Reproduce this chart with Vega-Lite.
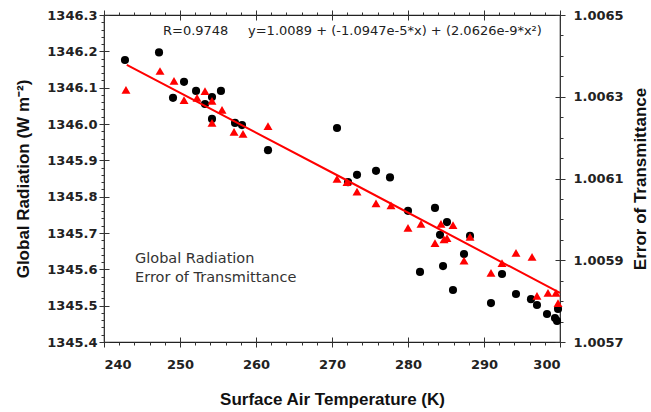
{
  "$schema": "https://vega.github.io/schema/vega-lite/v6.json",
  "width": 456,
  "height": 327,
  "autosize": {"type": "none"},
  "padding": {"left": 104, "top": 15, "right": 91, "bottom": 70},
  "background": "white",
  "config": {
    "view": {"stroke": "#222", "strokeWidth": 1.2},
    "axis": {
      "grid": false,
      "domain": false,
      "tickColor": "#333",
      "tickWidth": 1,
      "labelFont": "DejaVu Sans",
      "labelFontWeight": "bold",
      "labelFontSize": 13,
      "labelColor": "#222",
      "titleFont": "Liberation Sans",
      "titleFontWeight": "bold",
      "titleFontSize": 17,
      "titleColor": "#111"
    }
  },
  "datasets": {
    "rad": [
      {"T": 242.76, "R": 1346.176}, {"T": 247.24, "R": 1346.197}, {"T": 249.08, "R": 1346.072},
      {"T": 250.53, "R": 1346.116}, {"T": 252.11, "R": 1346.091}, {"T": 253.29, "R": 1346.055},
      {"T": 254.21, "R": 1346.074}, {"T": 254.21, "R": 1346.014}, {"T": 255.39, "R": 1346.091},
      {"T": 257.24, "R": 1346.003}, {"T": 258.16, "R": 1345.997}, {"T": 261.58, "R": 1345.928},
      {"T": 270.66, "R": 1345.989}, {"T": 272.11, "R": 1345.840}, {"T": 273.29, "R": 1345.860},
      {"T": 275.79, "R": 1345.871}, {"T": 277.63, "R": 1345.853}, {"T": 280.0, "R": 1345.761},
      {"T": 281.58, "R": 1345.593}, {"T": 283.55, "R": 1345.769}, {"T": 284.21, "R": 1345.695},
      {"T": 284.61, "R": 1345.609}, {"T": 285.13, "R": 1345.730}, {"T": 285.92, "R": 1345.543},
      {"T": 287.37, "R": 1345.642}, {"T": 288.16, "R": 1345.692}, {"T": 290.92, "R": 1345.507},
      {"T": 292.37, "R": 1345.587}, {"T": 294.21, "R": 1345.532}, {"T": 296.18, "R": 1345.518},
      {"T": 296.97, "R": 1345.502}, {"T": 298.29, "R": 1345.477}, {"T": 299.34, "R": 1345.466},
      {"T": 299.61, "R": 1345.458}, {"T": 299.74, "R": 1345.491}
    ],
    "trans": [
      {"T": 242.89, "E": 1.006317}, {"T": 247.37, "E": 1.006363}, {"T": 249.21, "E": 1.006339},
      {"T": 250.53, "E": 1.006292}, {"T": 252.24, "E": 1.006297}, {"T": 253.29, "E": 1.006314},
      {"T": 254.21, "E": 1.006290}, {"T": 255.53, "E": 1.006268}, {"T": 254.21, "E": 1.006236},
      {"T": 257.11, "E": 1.006214}, {"T": 258.29, "E": 1.006209}, {"T": 261.58, "E": 1.006228},
      {"T": 270.66, "E": 1.006099}, {"T": 271.97, "E": 1.006091}, {"T": 273.29, "E": 1.006068},
      {"T": 275.79, "E": 1.006039}, {"T": 277.76, "E": 1.006034}, {"T": 280.0, "E": 1.005979},
      {"T": 281.71, "E": 1.005989}, {"T": 283.55, "E": 1.005942}, {"T": 284.34, "E": 1.005989},
      {"T": 285.92, "E": 1.005986}, {"T": 284.74, "E": 1.005951}, {"T": 285.13, "E": 1.005954},
      {"T": 287.37, "E": 1.005899}, {"T": 288.16, "E": 1.005957}, {"T": 290.92, "E": 1.005869},
      {"T": 292.37, "E": 1.005893}, {"T": 294.21, "E": 1.005918}, {"T": 296.32, "E": 1.005908},
      {"T": 296.97, "E": 1.005813}, {"T": 298.42, "E": 1.005820}, {"T": 299.47, "E": 1.005820},
      {"T": 299.74, "E": 1.005795}
    ],
    "fit": [
      {"T": 243.0, "E": 1.006378}, {"T": 271.5, "E": 1.006100}, {"T": 300.0, "E": 1.005820}
    ],
    "annot": [
      {"T": 247.76, "R": 1346.256, "text": "R=0.9748"},
      {"T": 258.95, "R": 1346.256, "text": "y=1.0089 + (-1.0947e-5*x) + (2.0626e-9*x²)"}
    ],
    "legend": [
      {"T": 244.08, "R": 1345.628, "text": "Global Radiation"},
      {"T": 244.08, "R": 1345.576, "text": "Error of Transmittance"}
    ]
  },
  "resolve": {"scale": {"x": "independent", "y": "independent"}},
  "layer": [
    {
      "data": {"name": "rad"},
      "mark": {"type": "point", "shape": "circle", "filled": true, "color": "#000", "size": 66, "opacity": 1},
      "encoding": {
        "x": {"field": "T", "type": "quantitative", "scale": {"domain": [240, 300], "nice": false, "zero": false},
          "axis": {"orient": "bottom", "values": [240, 250, 260, 270, 280, 290, 300], "tickSize": 5, "labelPadding": 11, "title": "Surface Air Temperature (K)", "titlePadding": 20}},
        "y": {"field": "R", "type": "quantitative", "scale": {"domain": [1345.4, 1346.3], "nice": false, "zero": false},
          "axis": {"orient": "left", "values": [1345.4, 1345.5, 1345.6, 1345.7, 1345.8, 1345.9, 1346.0, 1346.1, 1346.2, 1346.3], "format": ".1f", "tickSize": 5, "labelPadding": 2, "title": "Global Radiation (W m⁻²)", "titlePadding": 14}}
      }
    },
    {
      "data": {"name": "trans"},
      "mark": {"type": "point", "shape": "triangle-up", "filled": true, "color": "#ff0000", "size": 80, "opacity": 1},
      "encoding": {
        "x": {"field": "T", "type": "quantitative", "scale": {"domain": [240, 300], "nice": false, "zero": false},
          "axis": {"orient": "top", "values": [240, 250, 260, 270, 280, 290, 300], "tickSize": 5, "labels": false, "title": null}},
        "y": {"field": "E", "type": "quantitative", "scale": {"domain": [1.0057, 1.0065], "nice": false, "zero": false},
          "axis": {"orient": "right", "values": [1.0057, 1.0059, 1.0061, 1.0063, 1.0065], "format": ".4f", "tickSize": 5, "labelPadding": 8, "title": "Error of Transmittance", "titleAngle": 270, "titlePadding": 26}}
      }
    },
    {
      "data": {"name": "fit"},
      "mark": {"type": "line", "color": "#ff0000", "strokeWidth": 2},
      "encoding": {
        "x": {"field": "T", "type": "quantitative", "scale": {"domain": [240, 300], "nice": false, "zero": false},
          "axis": {"orient": "bottom", "values": [240, 242, 244, 246, 248, 250, 252, 254, 256, 258, 260, 262, 264, 266, 268, 270, 272, 274, 276, 278, 280, 282, 284, 286, 288, 290, 292, 294, 296, 298, 300], "tickSize": 3, "labels": false, "title": null}},
        "y": {"field": "E", "type": "quantitative", "scale": {"domain": [1.0057, 1.0065], "nice": false, "zero": false},
          "axis": {"orient": "right", "values": [1.0057, 1.00575, 1.0058, 1.00585, 1.0059, 1.00595, 1.006, 1.00605, 1.0061, 1.00615, 1.0062, 1.00625, 1.0063, 1.00635, 1.0064, 1.00645, 1.0065], "tickSize": 3, "labels": false, "title": null}}
      }
    },
    {
      "data": {"name": "rad"},
      "mark": {"type": "point", "opacity": 0},
      "encoding": {
        "x": {"field": "T", "type": "quantitative", "scale": {"domain": [240, 300], "nice": false, "zero": false},
          "axis": {"orient": "top", "values": [240, 242, 244, 246, 248, 250, 252, 254, 256, 258, 260, 262, 264, 266, 268, 270, 272, 274, 276, 278, 280, 282, 284, 286, 288, 290, 292, 294, 296, 298, 300], "tickSize": 3, "labels": false, "title": null}},
        "y": {"field": "R", "type": "quantitative", "scale": {"domain": [1345.4, 1346.3], "nice": false, "zero": false},
          "axis": {"orient": "left", "values": [1345.4, 1345.42, 1345.44, 1345.46, 1345.48, 1345.5, 1345.52, 1345.54, 1345.56, 1345.58, 1345.6, 1345.62, 1345.64, 1345.66, 1345.68, 1345.7, 1345.72, 1345.74, 1345.76, 1345.78, 1345.8, 1345.82, 1345.84, 1345.86, 1345.88, 1345.9, 1345.92, 1345.94, 1345.96, 1345.98, 1346.0, 1346.02, 1346.04, 1346.06, 1346.08, 1346.1, 1346.12, 1346.14, 1346.16, 1346.18, 1346.2, 1346.22, 1346.24, 1346.26, 1346.28, 1346.3], "tickSize": 3, "labels": false, "title": null}}
      }
    },
    {
      "data": {"name": "annot"},
      "mark": {"type": "text", "align": "left", "baseline": "middle", "font": "DejaVu Sans", "fontSize": 13, "color": "#222"},
      "encoding": {
        "x": {"field": "T", "type": "quantitative", "scale": {"domain": [240, 300], "nice": false, "zero": false},
          "axis": {"orient": "bottom", "values": [240, 250, 260, 270, 280, 290, 300], "tickSize": 5, "offset": -5, "labels": false, "title": null}},
        "y": {"field": "R", "type": "quantitative", "scale": {"domain": [1345.4, 1346.3], "nice": false, "zero": false},
          "axis": {"orient": "left", "values": [1345.4, 1345.5, 1345.6, 1345.7, 1345.8, 1345.9, 1346.0, 1346.1, 1346.2, 1346.3], "tickSize": 5, "offset": -5, "labels": false, "title": null}},
        "text": {"field": "text", "type": "nominal"}
      }
    },
    {
      "data": {"name": "legend"},
      "mark": {"type": "text", "align": "left", "baseline": "middle", "font": "DejaVu Sans", "fontSize": 14.5, "color": "#333"},
      "encoding": {
        "x": {"field": "T", "type": "quantitative", "scale": {"domain": [240, 300], "nice": false, "zero": false}, "axis": null},
        "y": {"field": "R", "type": "quantitative", "scale": {"domain": [1345.4, 1346.3], "nice": false, "zero": false}, "axis": null},
        "text": {"field": "text", "type": "nominal"}
      }
    },
    {
      "data": {"name": "trans"},
      "mark": {"type": "point", "opacity": 0},
      "encoding": {
        "x": {"field": "T", "type": "quantitative", "scale": {"domain": [240, 300], "nice": false, "zero": false},
          "axis": {"orient": "top", "values": [240, 250, 260, 270, 280, 290, 300], "tickSize": 5, "offset": -5, "labels": false, "title": null}},
        "y": {"field": "E", "type": "quantitative", "scale": {"domain": [1.0057, 1.0065], "nice": false, "zero": false},
          "axis": {"orient": "right", "values": [1.0057, 1.0059, 1.0061, 1.0063, 1.0065], "tickSize": 5, "offset": -5, "labels": false, "title": null}}
      }
    }
  ]
}
